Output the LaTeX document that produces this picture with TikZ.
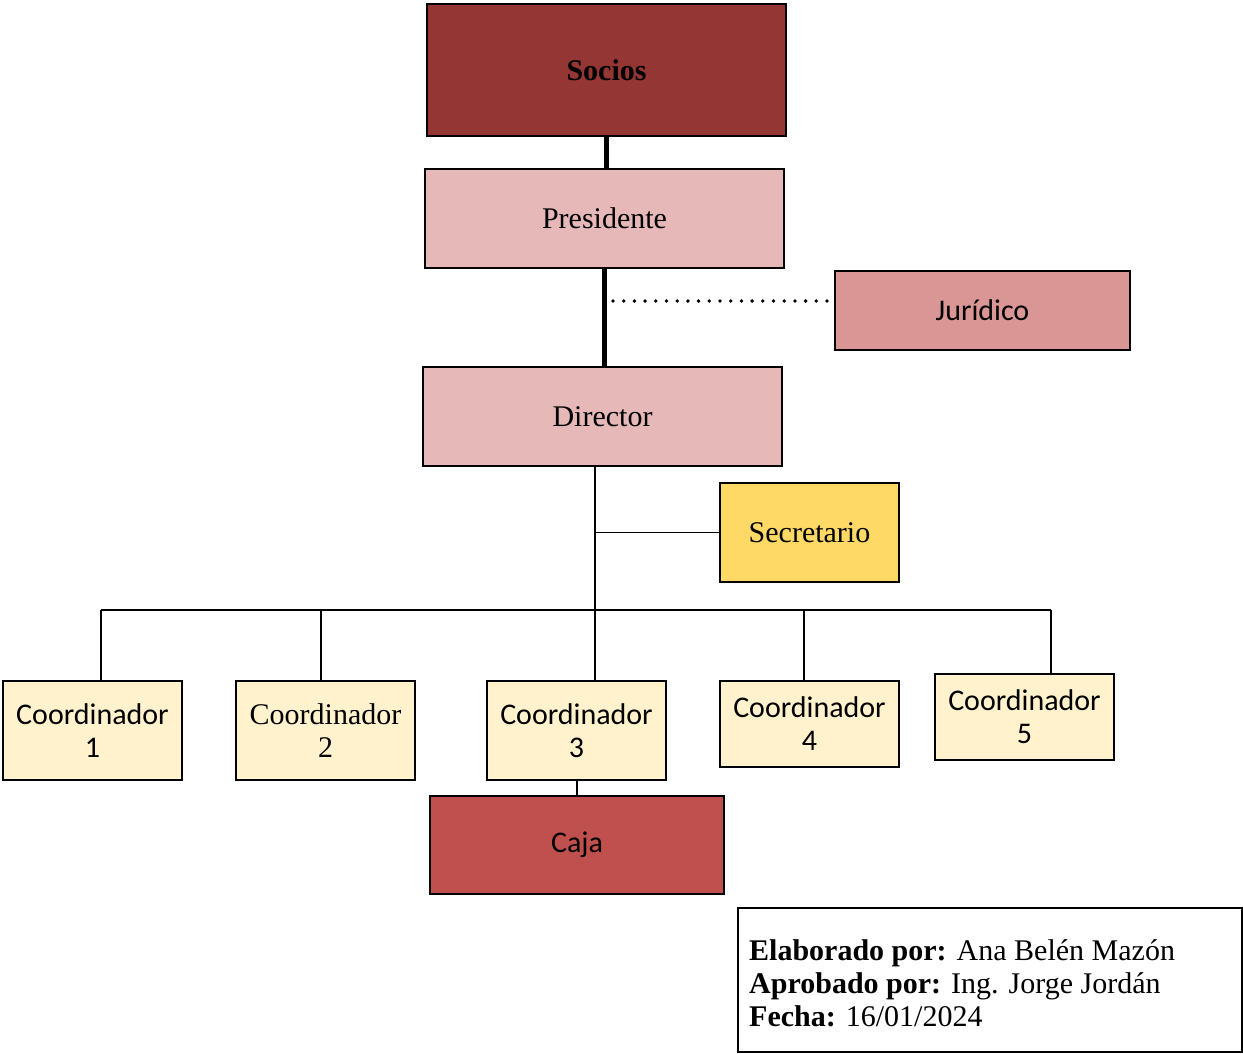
\documentclass[tikz,border=0pt]{standalone}
\usepackage{fontspec}
\setmainfont{Liberation Serif}
\newfontfamily\carlito{Carlito}
\usetikzlibrary{calc}
\definecolor{sociosred}{HTML}{943634}
\definecolor{rosa}{HTML}{E6B9B8}
\definecolor{rosaosc}{HTML}{D99694}
\definecolor{amarillo}{HTML}{FFD966}
\definecolor{crema}{HTML}{FFF2CC}
\definecolor{cajared}{HTML}{C0504D}
\begin{document}
\begin{tikzpicture}[x=1pt,y=-1pt,
  box/.style={draw=black,line width=1.6pt,inner sep=0pt,align=center,
    font=\fontsize{30}{33}\selectfont},
  sansbox/.style={box,font=\carlito\fontsize{30}{33}\selectfont},
  link/.style={line width=1.8pt,draw=black},
  boldlink/.style={line width=5pt,draw=black},
  dotline/.style={line width=3.8pt,line cap=round,dash pattern=on 0pt off 10.7pt}]
\useasboundingbox (0,0) rectangle (1243,1053);

% top of the chart
\node[box,fill=sociosred,minimum width=359pt,minimum height=132pt] (socios) at (606.5,70) {\textbf{Socios}};
\node[box,fill=rosa,minimum width=359pt,minimum height=99pt] (pres) at (604.5,218.5) {Presidente};
\node[sansbox,fill=rosaosc,minimum width=295pt,minimum height=79pt] (jur) at (982.5,310.5) {Jurídico};
\node[box,fill=rosa,minimum width=359pt,minimum height=99pt] (dir) at (602.5,416.5) {Director};
\node[box,fill=amarillo,minimum width=179pt,minimum height=99pt] (sec) at (809.5,532.5) {Secretario};

% coordinators
\node[sansbox,fill=crema,minimum width=179pt,minimum height=99pt] (c1) at (92.5,730.5) {Coordinador\\1};
\node[box,fill=crema,minimum width=179pt,minimum height=99pt] (c2) at (325.5,730.5) {Coordinador\\2};
\node[sansbox,fill=crema,minimum width=179pt,minimum height=99pt] (c3) at (576.5,730.5) {Coordinador\\3};
\node[sansbox,fill=crema,minimum width=179pt,minimum height=86pt] (c4) at (809.5,724) {Coordinador\\4};
\node[sansbox,fill=crema,minimum width=179pt,minimum height=86pt] (c5) at (1024.5,717) {Coordinador\\5};
\node[sansbox,fill=cajared,minimum width=294pt,minimum height=98pt] (caja) at (577,845) {Caja};

% sign-off block
\node[draw=black,line width=1.6pt,minimum width=504pt,minimum height=144pt,inner sep=0pt] (info) at (990,980) {};
\node[anchor=west,align=left,inner sep=0pt,font=\fontsize{30}{33}\selectfont] (infotxt) at (749,983)
  {\textbf{Elaborado por:} Ana Belén Mazón\\
   \textbf{Aprobado por:} Ing. Jorge Jordán\\
   \textbf{Fecha:} 16/01/2024};

% helper coordinates
\coordinate (trunk) at (595,0);
\coordinate (bus) at (0,610);
\coordinate (dotA) at (613,301);
\coordinate (d1) at (101,610);
\coordinate (d2) at (321,610);
\coordinate (d4) at (804,610);
\coordinate (d5) at (1051,610);

% connectors
\draw[boldlink] (socios.south) -- (socios.south |- pres.north);
\draw[boldlink] (pres.south) -- (pres.south |- dir.north);
\draw[dotline] (dotA) -- ($(dotA -| jur.west)+(-7,0)$);
\draw[link] (dir.south -| trunk) -- (c3.north -| trunk);
\draw[link] (sec.west) -- (sec.west -| trunk);
\draw[link] (d1) -- (d5);
\draw[link] (d1) -- (d1 |- c1.north);
\draw[link] (d2) -- (d2 |- c2.north);
\draw[link] (d4) -- (d4 |- c4.north);
\draw[link] (d5) -- (d5 |- c5.north);
\draw[link] (caja.north |- c3.south) -- (caja.north);
\end{tikzpicture}
\end{document}
